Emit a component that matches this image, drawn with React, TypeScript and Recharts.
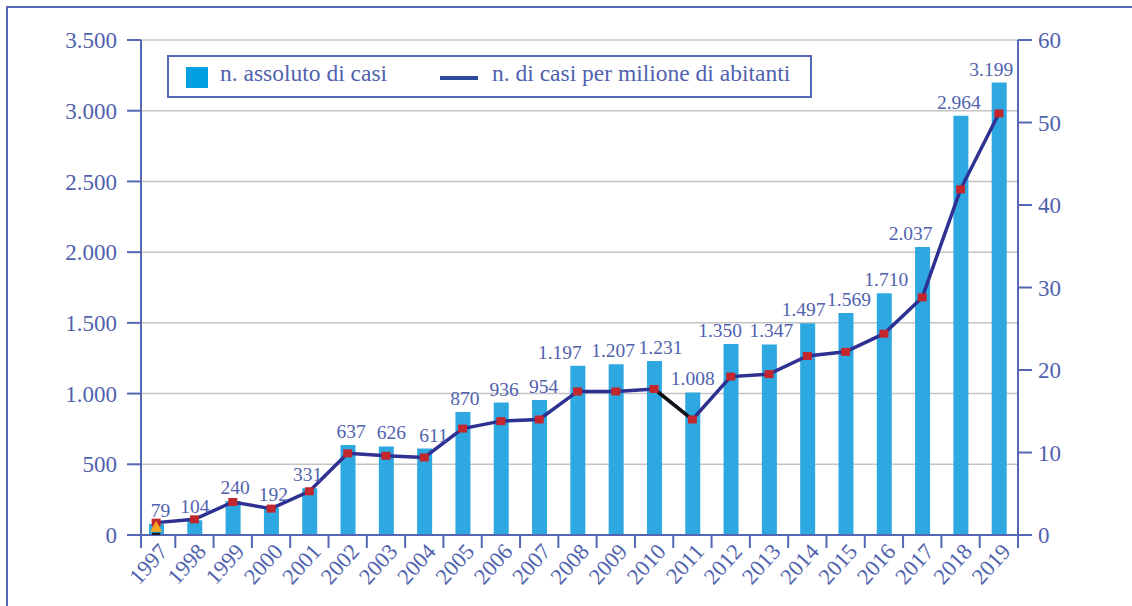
import React from 'react';
import { ComposedChart, Bar, Line, XAxis, YAxis, CartesianGrid, LabelList, Legend } from 'recharts';

const years = ['1997', '1998', '1999', '2000', '2001', '2002', '2003', '2004', '2005', '2006', '2007', '2008', '2009', '2010', '2011', '2012', '2013', '2014', '2015', '2016', '2017', '2018', '2019'];
const casi = [79, 104, 240, 192, 331, 637, 626, 611, 870, 936, 954, 1197, 1207, 1231, 1008, 1350, 1347, 1497, 1569, 1710, 2037, 2964, 3199];
const perMilione = [1.5, 1.9, 4.0, 3.2, 5.3, 9.9, 9.6, 9.4, 12.9, 13.8, 14.0, 17.4, 17.4, 17.7, 14.0, 19.2, 19.5, 21.7, 22.2, 24.4, 28.8, 41.9, 51.1];
// tratto 2010-2011 disegnato in nero
const tratto = [null, null, null, null, null, null, null, null, null, null, null, null, null, 17.7, 14.0, null, null, null, null, null, null, null, null];
// triangolo arancione sul 1997
const triangolo = [1.0, null, null, null, null, null, null, null, null, null, null, null, null, null, null, null, null, null, null, null, null, null, null];
const leftTicks = [0, 500, 1000, 1500, 2000, 2500, 3000, 3500];
const rightTicks = [0, 10, 20, 30, 40, 50, 60];

// spostamento orizzontale delle etichette (px), come nell'originale
const labelShift = [4, 0, 2, 2, -2, 3, 5, 9, 2, 3, 4, -18, -3, 6, 0, -11, 2, -4, 3, 2, -12, -2, -8];

const data = years.map((y, i) => ({
  anno: y,
  casi: casi[i],
  perMilione: perMilione[i],
  tratto: tratto[i],
  triangolo: triangolo[i],
}));

const W = 1132;
const H = 606;
const LEFT_W = 141;
const RIGHT_W = 114;
const TOP = 40;
const X_H = 71;
const PAD_L = -4;
const STEP = (W - LEFT_W - RIGHT_W - PAD_L) / years.length;

const AXIS = '#5466b4';
const TEXT = '#5062ad';
const FONT = '"Liberation Serif", "Times New Roman", serif';

const fmt = (v: any) => String(v).replace(/\B(?=(\d{3})+(?!\d))/g, '.');

const XTick = (props: any) => {
  const { x, y, payload, index } = props;
  const tx = x + 7;
  const ty = y + 12;
  const lx = index === 0 ? LEFT_W : x - STEP / 2;
  return (
    <g>
      <line x1={lx} x2={lx} y1={y} y2={y + 13} stroke={AXIS} strokeWidth={2} />
      {index === years.length - 1 && (
        <line x1={W - RIGHT_W} x2={W - RIGHT_W} y1={y} y2={y + 13} stroke={AXIS} strokeWidth={2} />
      )}
      <text
        x={tx}
        y={ty}
        dy="0.35em"
        textAnchor="end"
        fill={TEXT}
        fontSize={22.5}
        fontFamily={FONT}
        transform={`rotate(-48, ${tx}, ${ty})`}
      >
        {payload.value}
      </text>
    </g>
  );
};

const Etichetta = (props: any) => {
  const { x, y, width, value, index } = props;
  return (
    <text
      x={x + width / 2 + (labelShift[index] || 0)}
      y={y - 7}
      textAnchor="middle"
      fill={TEXT}
      fontSize={19.5}
      fontFamily={FONT}
    >
      {fmt(value)}
    </text>
  );
};

const Quadrato = (props: any) => {
  const { cx, cy } = props;
  if (cx == null || cy == null) return null;
  return <rect x={cx - 4.5} y={cy - 4} width={9} height={8} fill="#c1272d" />;
};

const Triangolo = (props: any) => {
  const { cx, cy, value } = props;
  if (cx == null || cy == null || value == null) return null;
  return (
    <g>
      <polygon points={`${cx},${cy - 6} ${cx + 6},${cy + 5} ${cx - 6},${cy + 5}`} fill="#f6a623" />
      <line x1={cx - 4} x2={cx + 4} y1={cy + 7} y2={cy + 7} stroke="#111" strokeWidth={2} />
    </g>
  );
};

const Legenda = () => (
  <div
    style={{
      position: 'absolute',
      left: 167,
      top: 55,
      width: 641,
      height: 39,
      border: `2px solid ${AXIS}`,
      background: '#fff',
      fontFamily: FONT,
      fontSize: 23.5,
      color: TEXT,
    }}
  >
    <div style={{ position: 'absolute', left: 17, top: 10, width: 22, height: 21, background: '#009fe3' }} />
    <div style={{ position: 'absolute', left: 51, top: 3, whiteSpace: 'nowrap' }}>n. assoluto di casi</div>
    <div style={{ position: 'absolute', left: 271, top: 19, width: 38, height: 4, background: '#2d4a9c' }} />
    <div style={{ position: 'absolute', left: 323, top: 3, whiteSpace: 'nowrap' }}>n. di casi per milione di abitanti</div>
  </div>
);

export default function App() {
  return (
    <div style={{ position: 'fixed', left: 0, top: 0, width: W, height: H, overflow: 'hidden', background: '#fff' }}>
      <div
        style={{
          position: 'absolute',
          left: 6,
          top: 6,
          width: 1300,
          height: 800,
          borderLeft: `2px solid ${AXIS}`,
          borderTop: `2px solid ${AXIS}`,
        }}
      />
      <div style={{ position: 'absolute', left: 0, top: 0 }}>
        <ComposedChart width={W} height={H} data={data} margin={{ top: TOP, right: 0, bottom: 0, left: 0 }}>
          <CartesianGrid yAxisId="left" vertical={false} stroke="#c4c4c4" strokeWidth={1.5} />
          <XAxis
            dataKey="anno"
            height={X_H}
            interval={0}
            padding={{ left: PAD_L, right: 0 }}
            tickLine={false}
            tickSize={0}
            tickMargin={0}
            axisLine={{ stroke: AXIS, strokeWidth: 2 }}
            tick={<XTick />}
          />
          <YAxis
            yAxisId="left"
            width={LEFT_W}
            domain={[0, 3500]}
            ticks={leftTicks}
            tickFormatter={fmt}
            tickSize={14}
            tickMargin={10}
            axisLine={{ stroke: AXIS, strokeWidth: 2 }}
            tickLine={{ stroke: AXIS, strokeWidth: 2 }}
            tick={{ fill: TEXT, fontSize: 23, fontFamily: FONT }}
          />
          <YAxis
            yAxisId="right"
            orientation="right"
            width={RIGHT_W}
            domain={[0, 60]}
            ticks={rightTicks}
            tickSize={14}
            tickMargin={6}
            axisLine={{ stroke: AXIS, strokeWidth: 2 }}
            tickLine={{ stroke: AXIS, strokeWidth: 2 }}
            tick={{ fill: TEXT, fontSize: 23, fontFamily: FONT }}
          />
          <Legend content={<Legenda />} wrapperStyle={{ position: 'absolute', left: 0, top: 0, width: 0, height: 0 }} />
          <Bar yAxisId="left" dataKey="casi" name="n. assoluto di casi" fill="#2ea8e0" barSize={15} isAnimationActive={false}>
            <LabelList dataKey="casi" content={<Etichetta />} />
          </Bar>
          <Line
            yAxisId="right"
            dataKey="perMilione"
            name="n. di casi per milione di abitanti"
            type="linear"
            stroke="#2e3192"
            strokeWidth={3.5}
            dot={false}
            activeDot={false}
            isAnimationActive={false}
          />
          <Line
            yAxisId="right"
            dataKey="tratto"
            legendType="none"
            type="linear"
            stroke="#111111"
            strokeWidth={3.5}
            dot={false}
            activeDot={false}
            connectNulls={false}
            isAnimationActive={false}
          />
          <Line
            yAxisId="right"
            dataKey="perMilione"
            legendType="none"
            stroke="none"
            dot={<Quadrato />}
            activeDot={false}
            isAnimationActive={false}
          />
          <Line
            yAxisId="right"
            dataKey="triangolo"
            legendType="none"
            stroke="none"
            dot={<Triangolo />}
            activeDot={false}
            isAnimationActive={false}
          />
        </ComposedChart>
      </div>
    </div>
  );
}
